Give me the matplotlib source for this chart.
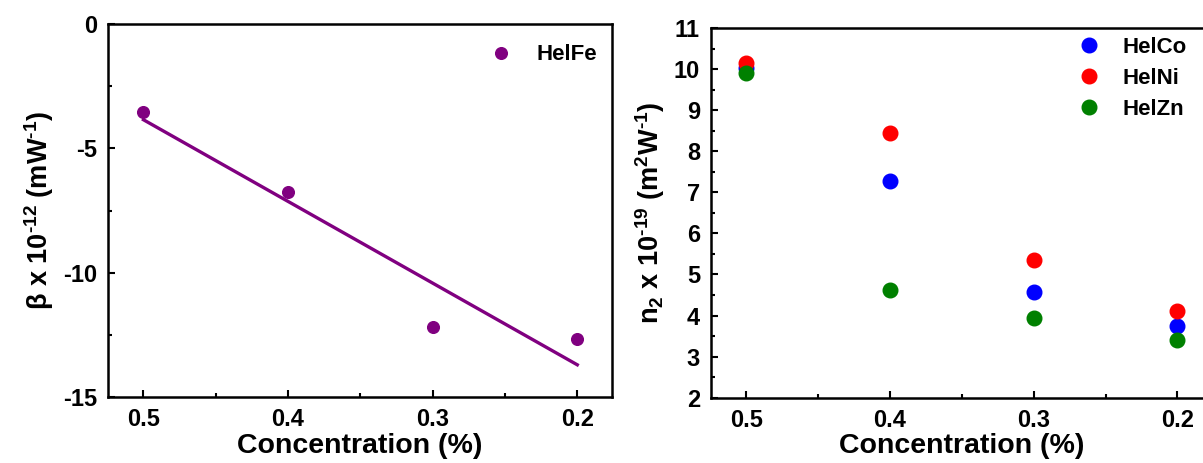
import matplotlib
matplotlib.use("Agg")
import matplotlib.pyplot as plt
import numpy as np
from matplotlib.ticker import MultipleLocator

plt.rcParams['font.family'] = ['Liberation Sans', 'DejaVu Sans']
plt.rcParams['font.weight'] = 'bold'
plt.rcParams['axes.unicode_minus'] = False
plt.rcParams['mathtext.fontset'] = 'custom'
plt.rcParams['mathtext.rm'] = 'Liberation Sans:bold'
plt.rcParams['mathtext.bf'] = 'Liberation Sans:bold'
plt.rcParams['mathtext.it'] = 'Liberation Sans:bold'

# Data
conc = [0.5, 0.4, 0.3, 0.2]
beta_fe = [-3.53, -6.74, -12.17, -12.67]
n2_co = [10.02, 7.28, 4.57, 3.75]
n2_ni = [10.16, 8.44, 5.35, 4.10]
n2_zn = [9.90, 4.62, 3.95, 3.41]

fig = plt.figure(figsize=(12.03, 4.63), dpi=100)
ax1 = fig.add_axes([108/1203, 1-397/463, (612-108)/1203, (397-24)/463])
ax2 = fig.add_axes([711/1203, 1-397.7/463, (1212-711)/1203, (397.7-28)/463])

def style(ax):
    for s in ax.spines.values():
        s.set_linewidth(1.8)
    ax.tick_params(which='major', direction='in', length=5, width=1.5, labelsize=17, pad=8)
    ax.tick_params(which='minor', direction='in', length=3, width=1.5)
    ax.tick_params(top=False, right=False, which='both')
    ax.set_xlim(0.5245, 0.176)
    ax.xaxis.set_minor_locator(MultipleLocator(0.05))
    ax.set_xticks(conc)
    ax.set_xticklabels([f"{c:.1f}" for c in conc], fontsize=17, fontweight='bold')
    for lab in ax.get_yticklabels():
        lab.set_fontweight('bold')
    ax.set_xlabel('Concentration (%)', fontsize=20.5, fontweight='bold', labelpad=1)

# Left panel
x = np.array(conc)
y = np.array(beta_fe)
p = np.polyfit(x, y, 1)
ax1.plot(x, np.polyval(p, x), color='#800080', lw=2.4, zorder=2)
ax1.plot(conc, beta_fe, 'o', color='#800080', ms=8.4, lw=0, label='HelFe', zorder=3)
ax1.set_ylim(-15, 0)
ax1.yaxis.set_major_locator(MultipleLocator(5))
ax1.yaxis.set_minor_locator(MultipleLocator(2.5))
style(ax1)
ax1.set_ylabel('β x 10$^{\u201012}$ (mW$^{\u20101}$)', fontsize=19.5, fontweight='bold', labelpad=5)
ax1.legend(loc='center left', bbox_to_anchor=(490/1203, 1-55/463), bbox_transform=fig.transFigure,
           frameon=False, fontsize=16, handlelength=1.0, handletextpad=1.1, borderpad=0, borderaxespad=0)

# Right panel
ax2.plot(conc, n2_co, 'o', color='#0000FF', ms=10.5, lw=0, label='HelCo', zorder=3)
ax2.plot(conc, n2_ni, 'o', color='#FF0000', ms=10.5, lw=0, label='HelNi', zorder=3)
ax2.plot(conc, n2_zn, 'o', color='#008000', ms=10.5, lw=0, label='HelZn', zorder=4)
ax2.set_ylim(2, 11)
ax2.yaxis.set_major_locator(MultipleLocator(1))
ax2.yaxis.set_minor_locator(MultipleLocator(0.5))
style(ax2)
ax2.set_ylabel('n$_2$ x 10$^{\u201019}$ (m$^2$W$^{\u20101}$)', fontsize=19.5, fontweight='bold', labelpad=5)
ax2.legend(loc='upper left', bbox_to_anchor=(1078/1203, 1-37/463), bbox_transform=fig.transFigure,
           frameon=False, fontsize=16, handlelength=1.0, handletextpad=1.0, borderpad=0,
           borderaxespad=0, labelspacing=0.45)

fig.savefig('out.png', dpi=100)
